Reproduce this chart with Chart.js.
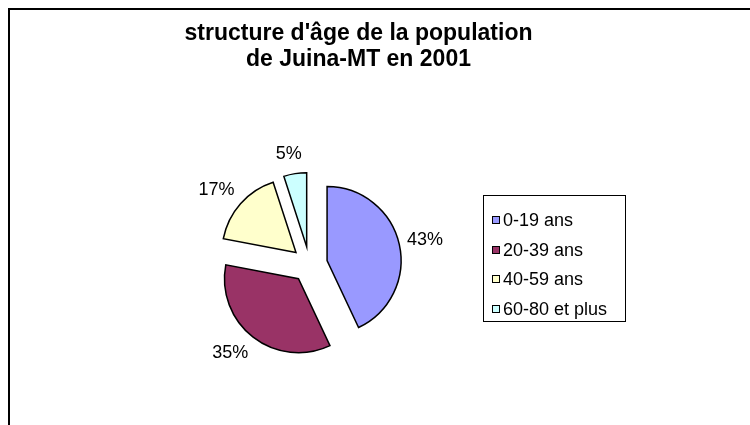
<!DOCTYPE html>
<html>
<head>
<meta charset="utf-8">
<script src="https://cdn.jsdelivr.net/npm/chart.js@4.4.0/dist/chart.umd.min.js"></script>
<style>
  body { margin: 0; background: #fff; }
  #wrap { position: relative; width: 750px; height: 425px; overflow: hidden; }
  #frame { position: absolute; left: 8px; top: 8px; width: 800px; height: 500px; border: 2px solid #000; }
  canvas { position: absolute; left: 0; top: 0; }
</style>
</head>
<body>
<div id="wrap">
  <div id="frame"></div>
  <canvas id="piechart" width="750" height="425"></canvas>
</div>
<script>
const titleLines = ["structure d'âge de la population", "de Juina-MT en 2001"];
const ageGroups = ["0-19 ans", "20-39 ans", "40-59 ans", "60-80 et plus"];
const shares = [43, 35, 17, 5];
const sliceColors = ["#9999FF", "#993366", "#FFFFCC", "#CCFFFF"];

const FONT = "'Liberation Sans', Arial, sans-serif";
const EXPLODE = 18;

// Décale chaque part vers l'extérieur (camembert éclaté)
const explodePlugin = {
  id: "explode",
  afterDatasetsUpdate(chart) {
    const area = chart.chartArea;
    const cx = (area.left + area.right) / 2;
    const cy = (area.top + area.bottom) / 2;
    chart.getDatasetMeta(0).data.forEach((arc) => {
      const mid = (arc.startAngle + arc.endAngle) / 2;
      arc.x = cx + Math.cos(mid) * EXPLODE;
      arc.y = cy + Math.sin(mid) * EXPLODE;
    });
  },
};

// Pourcentages à l'extérieur des parts
const labelPlugin = {
  id: "sliceLabels",
  afterDatasetsDraw(chart) {
    const ctx = chart.ctx;
    const values = chart.data.datasets[0].data;
    const total = values.reduce((a, b) => a + b, 0);
    ctx.save();
    ctx.font = "18px " + FONT;
    ctx.fillStyle = "#000";
    ctx.textAlign = "center";
    ctx.textBaseline = "middle";
    chart.getDatasetMeta(0).data.forEach((arc, i) => {
      const mid = (arc.startAngle + arc.endAngle) / 2;
      const cos = Math.cos(mid);
      const sin = Math.sin(mid);
      const text = Math.round((values[i] / total) * 100) + "%";
      const w = ctx.measureText(text).width;
      const r = arc.outerRadius + 8;
      const x = arc.x + cos * r + (w / 2) * Math.max(-1, Math.min(1, cos * 2.5));
      const y = arc.y + sin * r + sin * 12;
      ctx.fillText(text, x, y);
    });
    ctx.restore();
  },
};

// Titre et légende encadrée
const decorPlugin = {
  id: "decor",
  afterDraw(chart) {
    const ctx = chart.ctx;
    ctx.save();
    ctx.fillStyle = "#000";
    ctx.textAlign = "center";
    ctx.textBaseline = "alphabetic";
    ctx.font = "bold 23px " + FONT;
    titleLines.forEach((line, i) => ctx.fillText(line, 358.5, 40 + i * 26));

    ctx.lineWidth = 1;
    ctx.strokeStyle = "#000";
    ctx.strokeRect(483.5, 195.5, 142, 126);
    ctx.font = "18px " + FONT;
    ctx.textAlign = "left";
    ctx.textBaseline = "middle";
    chart.data.labels.forEach((label, i) => {
      const y = Math.round(220 + i * 29.7);
      ctx.fillStyle = chart.data.datasets[0].backgroundColor[i];
      ctx.fillRect(492, y - 4, 8, 8);
      ctx.strokeRect(492.5, y - 3.5, 7, 7);
      ctx.fillStyle = "#000";
      ctx.fillText(label, 503, y + 1);
    });
    ctx.restore();
  },
};

const ctx = document.getElementById("piechart").getContext("2d");
const pieChart = new Chart(ctx, {
  type: "pie",
  data: {
    labels: ageGroups,
    datasets: [
      {
        data: shares,
        backgroundColor: sliceColors,
        borderColor: "#000",
        borderWidth: 1.5,
        borderJoinStyle: "miter",
      },
    ],
  },
  options: {
    responsive: false,
    animation: false,
    radius: 74,
    layout: { padding: { left: 0, right: 131, top: 104, bottom: 0 } },
    plugins: {
      legend: { display: false },
      title: { display: false },
      tooltip: { enabled: false },
    },
  },
  plugins: [explodePlugin, labelPlugin, decorPlugin],
});
</script>
</body>
</html>
